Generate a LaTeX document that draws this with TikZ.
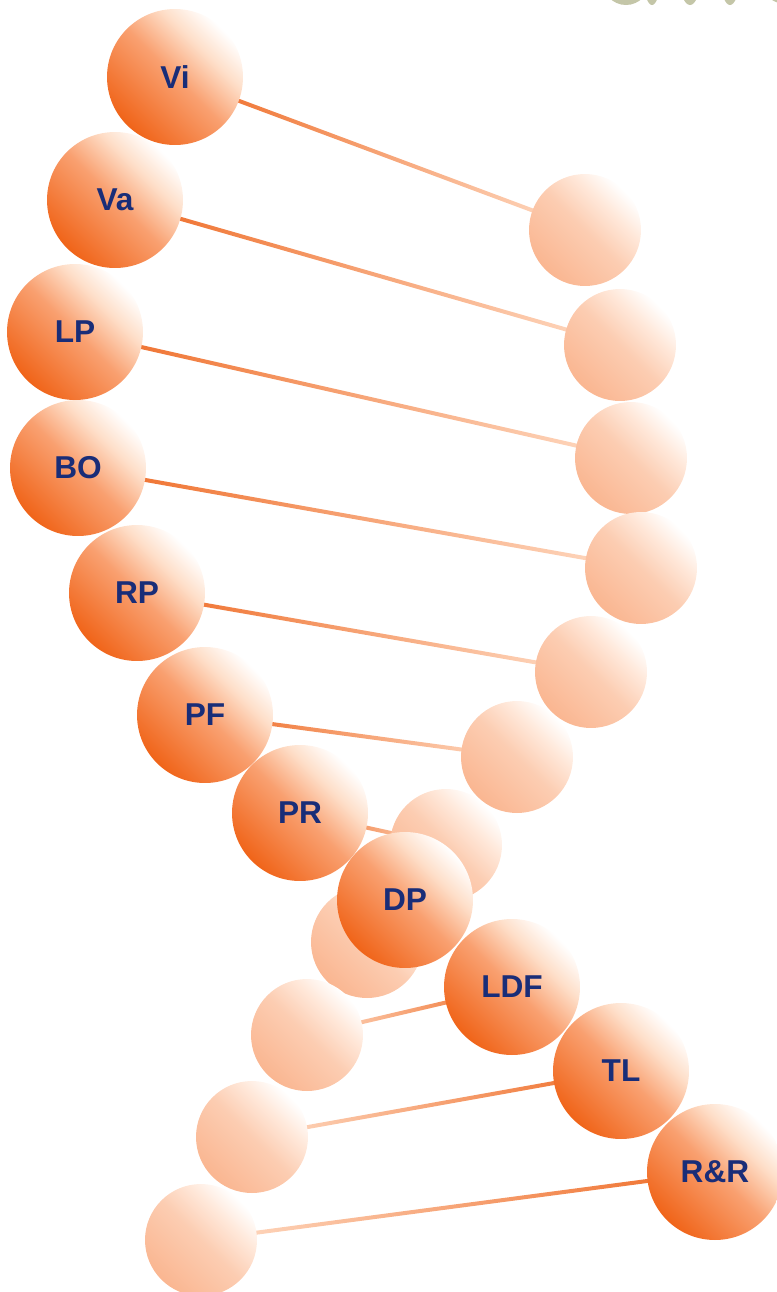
\documentclass[tikz,border=0pt]{standalone}
\usepackage{fontspec}
\setmainfont{Liberation Sans}
\usetikzlibrary{calc,backgrounds}

\definecolor{fronthi}{RGB}{254,222,200}
\definecolor{frontmid}{RGB}{249,160,112}
\definecolor{frontdark}{RGB}{240,100,25}
\definecolor{backhi}{RGB}{255,232,218}
\definecolor{backmid}{RGB}{252,205,178}
\definecolor{backdark}{RGB}{250,182,145}
\definecolor{rungorange}{RGB}{238,105,35}
\definecolor{rungpale}{RGB}{255,222,200}
\definecolor{labelblue}{RGB}{25,45,120}
\definecolor{titlegrey}{RGB}{196,198,168}

\pgfdeclarehorizontalshading{frontball}{100bp}{color(0bp)=(frontdark); color(25bp)=(frontdark); color(50bp)=(frontmid); color(64bp)=(fronthi); color(75bp)=(white); color(100bp)=(white)}
\pgfdeclarehorizontalshading{backball}{100bp}{color(0bp)=(backdark); color(25bp)=(backdark); color(50bp)=(backmid); color(64bp)=(backhi); color(75bp)=(white); color(100bp)=(white)}

\begin{document}
\begin{tikzpicture}[x=0.02cm, y=-0.02cm]
    \tikzstyle{front}=[circle, inner sep=0pt, minimum size=2.72cm, shading=frontball, shading angle=45, text=labelblue, font=\fontsize{18}{21}\selectfont\bfseries]
    \tikzstyle{back}=[circle, inner sep=0pt, minimum size=2.24cm, shading=backball, shading angle=45]
    \tikzstyle{rung}=[rectangle, inner sep=0pt, minimum height=0.08cm, left color=rungorange, right color=rungpale, sloped, allow upside down]
    \tikzstyle{rungrev}=[rung, left color=rungpale, right color=rungorange]
    \useasboundingbox (0,0) rectangle (777,1292);

    % title letters cut by the top edge
    \begin{scope}
        \clip (590,0) rectangle (777,6);
        \fill[titlegrey] (626,-20) ellipse (24 and 25);
        \fill[titlegrey] (652,-20) ellipse (8 and 25);
        \fill[titlegrey] (690,-20) ellipse (10 and 25);
        \fill[titlegrey] (730,-20) ellipse (9 and 25);
        \fill[titlegrey] (790,-20) ellipse (30 and 25);
    \end{scope}

    % back strand
    \node[back] (vi-b) at (585,230) {};
    \node[back] (va-b) at (620,345) {};
    \node[back] (lp-b) at (631,458) {};
    \node[back] (bo-b) at (641,568) {};
    \node[back] (rp-b) at (591,672) {};
    \node[back] (pf-b) at (517,757) {};
    \node[back] (pr-b) at (446,845) {};
    \node[back] (dp-b) at (367,942) {};
    \node[back] (ldf-b) at (307,1035) {};
    \node[back] (tl-b) at (252,1137) {};
    \node[back] (rr-b) at (201,1240) {};

    % front strand
    \node[front] (vi) at (175,77) {Vi};
    \node[front] (va) at (115,200) {Va};
    \node[front] (lp) at (75,332) {LP};
    \node[front] (bo) at (78,468) {BO};
    \node[front] (rp) at (137,593) {RP};
    \node[front] (pf) at (205,715) {PF};
    \node[front] (pr) at (300,813) {PR};
    \node[front] (dp) at (405,900) {DP};
    \node[front] (ldf) at (512,987) {LDF};
    \node[front] (tl) at (621,1071) {TL};
    \node[front] (rr) at (715,1172) {R\&R};

    % rungs, under the balls
    \begin{pgfonlayer}{background}
    \foreach \a/\s in {vi/rung,va/rung,lp/rung,bo/rung,rp/rung,pf/rung,pr/rung,dp/rungrev,ldf/rungrev,tl/rungrev,rr/rungrev}
        \path let \p1=($(\a-b.center)-(\a.center)$) in (\a.center) -- (\a-b.center) node[\s, midway, minimum width={veclen(\x1,\y1)}] {};
    \end{pgfonlayer}

\end{tikzpicture}
\end{document}
